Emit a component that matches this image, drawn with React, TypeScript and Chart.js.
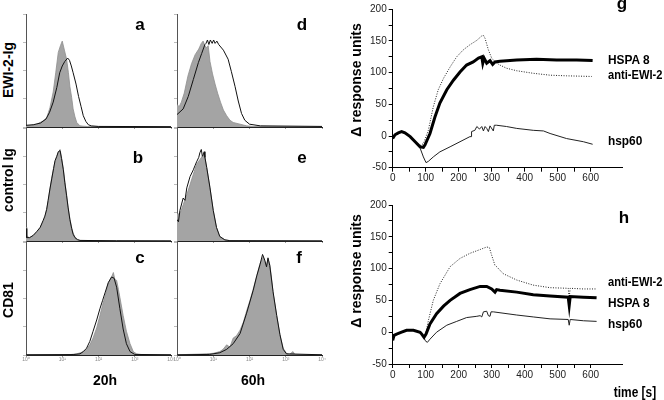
import React, { useEffect, useRef } from "react";
import { Chart, registerables } from "chart.js";
Chart.register(...registerables);

const FONT = "'Liberation Sans', Arial, Helvetica, sans-serif";

// ---------- flow cytometry histograms: x = log10 decade (0..4), y = % of max ----------
const DECADES = [0, 1, 2, 3, 4];
const DECADE_LABELS = ["10\u2070", "10\u00b9", "10\u00b2", "10\u00b3", "10\u2074"];
const HIST_Y_TICKS = [0, 25, 50, 75, 100];

const panelAFilled = [[0,1],[0.15,1.5],[0.3,2.5],[0.45,5],[0.57,8],[0.66,17],[0.75,31],[0.82,48],[0.89,66],[0.95,72],[1.0,76],[1.06,68],[1.12,60],[1.17,48],[1.21,36],[1.26,26],[1.3,16],[1.35,9],[1.4,4],[1.49,1],[1.7,0.4],[2.5,0.2],[4,0.1]];
const panelAOpen = [[0,1.5],[0.2,2],[0.4,3.5],[0.55,7],[0.65,13],[0.75,22],[0.85,35],[0.93,48],[1.0,54],[1.07,58],[1.15,61],[1.2,59],[1.25,54],[1.3,48],[1.38,38],[1.45,27],[1.52,18],[1.58,10],[1.65,5],[1.72,2],[1.8,1],[2.0,0.5],[4,0.3]];

const panelBFilled = [[0,12],[0.02,4],[0.1,3],[0.2,5],[0.3,8],[0.39,12],[0.47,17],[0.52,21],[0.57,28],[0.61,35],[0.66,46],[0.71,56],[0.76,64],[0.8,70],[0.85,75],[0.89,78],[0.94,81],[0.98,74],[1.03,64],[1.07,53],[1.12,41],[1.16,30],[1.21,20],[1.26,12],[1.3,7],[1.35,3.5],[1.42,1.5],[1.49,0.5],[2.5,0.2],[4,0.1]];
const panelBOpen = [[0,11],[0.02,3],[0.1,3],[0.2,5],[0.3,8.5],[0.39,12],[0.47,18],[0.52,22],[0.57,28],[0.61,36],[0.66,46],[0.71,55],[0.76,64],[0.8,71],[0.85,75],[0.89,79],[0.94,80],[0.98,73],[1.03,63],[1.07,52],[1.12,40],[1.16,30],[1.21,19],[1.26,11],[1.3,6],[1.35,3],[1.42,1.2],[1.49,0.5],[2.5,0.2],[4,0.1]];

const panelCFilled = [[0,0.2],[1.2,0.3],[1.4,1],[1.55,2.5],[1.67,5],[1.76,9],[1.85,15],[1.95,24],[2.04,35],[2.11,44],[2.18,52],[2.27,64],[2.36,69],[2.41,73],[2.45,67],[2.5,66],[2.55,58],[2.59,51],[2.68,35],[2.77,21],[2.87,10],[2.96,3],[3.05,1],[3.2,0.3],[4,0.2]];
const panelCOpen = [[0,0.2],[1.3,0.4],[1.49,1],[1.58,3],[1.67,6],[1.76,12],[1.85,21],[1.95,31],[2.04,41],[2.11,48],[2.18,55],[2.27,64],[2.36,69],[2.43,68],[2.5,60],[2.59,41],[2.68,23],[2.77,10],[2.87,3],[3.0,0.5],[4,0.2]];

const panelDFilled = [[0,20],[0.06,18],[0.12,22],[0.2,30],[0.3,45],[0.4,56],[0.5,64],[0.6,69],[0.67,74],[0.72,76],[0.77,72],[0.82,70],[0.86,72],[0.91,58],[0.98,47],[1.05,38],[1.12,30],[1.2,22],[1.28,15],[1.37,10],[1.46,6],[1.55,4],[1.74,2.5],[1.92,1],[2.1,0.5],[4,0.2]];
const panelDOpen = [[0,11],[0.17,16],[0.31,27],[0.45,42],[0.59,57],[0.68,65],[0.77,73],[0.8,74],[0.84,77],[0.88,73],[0.92,77],[0.97,74],[1.01,77],[1.05,74],[1.1,76],[1.15,73],[1.28,68],[1.41,60],[1.5,49],[1.6,36],[1.69,23],[1.78,12],[1.87,6],[2.0,2.5],[2.3,1],[4,0.5]];

const panelEFilled = [[0,24],[0.08,24],[0.17,32],[0.27,41],[0.36,50],[0.45,59],[0.54,68],[0.63,72],[0.72,76],[0.77,74],[0.82,65],[0.91,47],[1.0,27],[1.09,12],[1.18,4],[1.32,1],[1.46,0.3],[4,0.1]];
const panelEOpen = [[0,19],[0.04,17],[0.08,27],[0.17,38],[0.22,36],[0.27,47],[0.36,57],[0.45,63],[0.5,67],[0.54,70],[0.6,74],[0.63,78],[0.67,81],[0.7,75],[0.72,76],[0.75,79],[0.77,74],[0.82,65],[0.91,47],[1.0,27],[1.09,12],[1.18,4],[1.32,1],[1.46,0.3],[4,0.1]];

const panelFFilled = [[0,0.2],[0.82,1],[1.0,1.5],[1.18,3],[1.27,5],[1.37,9],[1.46,7],[1.55,15],[1.64,17],[1.74,22],[1.83,29],[1.92,39],[2.01,48],[2.1,58],[2.2,70],[2.29,81],[2.38,87],[2.42,83],[2.47,79],[2.51,85],[2.56,80],[2.6,70],[2.65,55],[2.75,35],[2.84,18],[2.93,6],[3.02,1.5],[3.1,0.5],[3.2,3],[3.25,0.5],[4,0.2]];
const panelFOpen = [[0,0.2],[0.9,0.5],[1.18,2],[1.37,5],[1.55,10],[1.74,19],[1.92,37],[2.1,57],[2.2,70],[2.29,80],[2.36,89],[2.42,84],[2.47,78],[2.51,86],[2.56,79],[2.65,56],[2.75,35],[2.84,18],[2.93,5],[3.02,1],[4,0.2]];

// ---------- sensorgrams: x = time [s], y = response units ----------
const gHSPA8 = [[0,-4],[7,2],[17,5],[27,7],[37,5],[53,-1],[68,-9],[83,-17],[93,-18],[98,-14],[113,4],[128,30],[143,52],[164,73],[184,88],[204,101],[224,112],[244,117],[260,123],[270,125],[273,115],[277,123],[285,115],[295,119],[303,113],[310,117],[325,118],[376,120],[436,121],[497,120],[558,120],[606,119]];
const gAntiEWI2 = [[0,-4],[7,2],[17,5],[27,7],[37,5],[53,-1],[68,-9],[83,-15],[93,-12],[108,9],[123,46],[138,73],[154,91],[174,109],[194,125],[214,136],[234,144],[255,151],[270,158],[275,159],[280,154],[290,136],[300,123],[310,117],[325,112],[345,107],[376,103],[426,99],[477,96],[527,95],[603,94]];
const gHsp60 = [[0,-4],[7,2],[17,5],[27,7],[37,5],[53,-1],[68,-9],[83,-19],[93,-33],[101,-42],[108,-40],[123,-33],[143,-25],[174,-17],[204,-9],[234,-1],[238,-1],[239,7],[249,9],[255,15],[263,11],[270,15],[275,8],[280,15],[285,12],[290,7],[295,16],[305,8],[308,17],[315,17],[345,15],[376,12],[426,9],[457,8],[477,4],[527,-4],[578,-9],[606,-13]];

const hHSPA8 = [[0,-13],[4,-5],[12,-3],[27,0],[42,3],[63,3],[83,0],[88,-3],[95,-8],[101,-3],[113,13],[133,29],[154,41],[174,50],[204,61],[234,67],[265,72],[285,72],[300,68],[310,63],[315,67],[325,66],[376,63],[426,59],[477,57],[532,55],[535,42],[538,56],[578,55],[618,54]];
const hAntiEWI2 = [[0,-13],[4,-5],[12,-3],[27,0],[42,3],[63,3],[83,0],[88,-3],[98,-8],[108,18],[123,50],[143,76],[174,103],[204,116],[234,124],[265,130],[285,134],[293,133],[300,121],[310,105],[315,103],[335,92],[376,82],[426,74],[477,70],[532,69],[535,55],[538,69],[578,68],[618,68]];
const hHsp60 = [[0,-13],[4,-5],[12,-3],[27,0],[42,3],[63,3],[83,0],[88,-3],[95,-8],[98,-13],[105,-16],[113,-11],[133,0],[164,11],[194,17],[224,23],[255,25],[265,26],[270,24],[275,32],[285,33],[290,26],[295,25],[298,32],[305,32],[376,27],[426,24],[477,21],[532,20],[535,11],[538,20],[578,18],[618,17]];

const toXY = (arr: number[][]) => arr.map(([x, y]) => ({ x, y }));

function Histo(props: { left: number; top: number; filled: number[][]; open: number[][]; labels: boolean }) {
  const ref = useRef<HTMLCanvasElement>(null);
  const W = 157;
  const H = props.labels ? 127 : 117;
  useEffect(() => {
    const chart = new Chart(ref.current as HTMLCanvasElement, {
      type: "line",
      data: {
        datasets: [
          { data: toXY(props.open), borderColor: "#111", borderWidth: 1, fill: false, pointRadius: 0, tension: 0, order: 0 },
          { data: toXY(props.filled), borderColor: "#8e8e8e", borderWidth: 0.8, backgroundColor: "#a4a4a4", fill: "origin", pointRadius: 0, tension: 0, order: 1 },
        ],
      } as any,
      options: {
        responsive: false,
        animation: false,
        events: [],
        plugins: { legend: { display: false }, tooltip: { enabled: false } },
        layout: { padding: { left: 0, right: 6, top: 2, bottom: 0 } },
        scales: {
          x: {
            type: "linear", min: 0, max: 4,
            afterBuildTicks: (s: any) => { s.ticks = DECADES.map((v) => ({ value: v })); },
            afterFit: (s: any) => { s.height = props.labels ? 12 : 2; },
            ticks: { display: props.labels, autoSkip: false, maxRotation: 0, padding: 0, color: "#888", font: { family: FONT, size: 5 }, callback: (v: any) => DECADE_LABELS[Math.round(Number(v))] ?? "" },
            grid: { drawOnChartArea: false, tickLength: 2, tickColor: "#999" },
            border: { color: "#222", width: 1 },
          },
          y: {
            min: 0, max: 100,
            afterBuildTicks: (s: any) => { s.ticks = HIST_Y_TICKS.map((v) => ({ value: v })); },
            afterFit: (s: any) => { s.width = 6; },
            ticks: { display: false },
            grid: { drawOnChartArea: false, tickLength: 3, tickColor: "#bbb" },
            border: { color: "#555", width: 1 },
          },
        },
      } as any,
    });
    return () => chart.destroy();
  }, []);
  return <canvas ref={ref} width={W} height={H} style={{ position: "absolute", left: props.left, top: props.top }} />;
}

function Sensor(props: { top: number; padTop: number; xH: number; hspa: number[][]; anti: number[][]; hsp: number[][] }) {
  const ref = useRef<HTMLCanvasElement>(null);
  useEffect(() => {
    const chart = new Chart(ref.current as HTMLCanvasElement, {
      type: "line",
      data: {
        datasets: [
          { data: toXY(props.hspa), borderColor: "#000", borderWidth: 3, fill: false, pointRadius: 0, tension: 0 },
          { data: toXY(props.anti), borderColor: "#222", borderWidth: 1, borderDash: [1, 1.5], fill: false, pointRadius: 0, tension: 0 },
          { data: toXY(props.hsp), borderColor: "#222", borderWidth: 1, fill: false, pointRadius: 0, tension: 0 },
        ],
      } as any,
      options: {
        responsive: false,
        animation: false,
        events: [],
        plugins: { legend: { display: false }, tooltip: { enabled: false } },
        layout: { padding: { left: 0, right: 42, top: props.padTop, bottom: 0 } },
        scales: {
          x: {
            type: "linear", min: 0, max: 695,
            afterBuildTicks: (s: any) => { s.ticks = s.ticks.filter((t: any) => t.value % 50 === 0); },
            afterFit: (s: any) => { s.height = props.xH; },
            ticks: { stepSize: 50, autoSkip: false, maxRotation: 0, padding: 1, color: "#222", font: { family: FONT, size: 10 }, callback: (v: any) => (Number(v) % 100 === 0 ? String(v) : "") },
            grid: { drawOnChartArea: false, tickLength: 4, tickColor: "#000" },
            border: { color: "#000", width: 1 },
          },
          y: {
            min: -50, max: 200,
            afterFit: (s: any) => { s.width = 42.7; },
            ticks: { stepSize: 25, autoSkip: false, padding: 2, color: "#222", font: { family: FONT, size: 10 }, callback: (v: any) => (Number(v) % 50 === 0 ? String(v) : "") },
            grid: { drawOnChartArea: false, tickLength: 4, tickColor: "#000" },
            border: { color: "#000", width: 1 },
          },
        },
      } as any,
    });
    return () => chart.destroy();
  }, []);
  return <canvas ref={ref} width={314} height={190} style={{ position: "absolute", left: 350, top: props.top }} />;
}

function Txt(props: { text: string; x: number; base: number; size: number; align?: "left" | "center"; sx?: number }) {
  const left = props.align === "left";
  return (
    <div style={{
      position: "absolute", left: props.x, top: props.base - 0.8465 * props.size,
      font: `bold ${props.size}px ${FONT}`, lineHeight: 1, whiteSpace: "nowrap", color: "#000",
      transform: `${left ? "" : "translateX(-50%) "}scaleX(${props.sx ?? 1})`, transformOrigin: left ? "left top" : "center top",
    }}>{props.text}</div>
  );
}

function VTxt(props: { text: string; cx: number; cy: number; size: number }) {
  return (
    <div style={{
      position: "absolute", left: props.cx, top: props.cy,
      font: `bold ${props.size}px ${FONT}`, lineHeight: 1, whiteSpace: "nowrap", color: "#000",
      transform: "translate(-50%, -50%) rotate(-90deg)",
    }}>{props.text}</div>
  );
}

export default function App() {
  return (
    <div style={{ position: "fixed", left: 0, top: 0, width: 664, height: 400, background: "#fff", overflow: "hidden" }}>
      <Histo left={20} top={12} filled={panelAFilled} open={panelAOpen} labels={false} />
      <Histo left={20} top={126} filled={panelBFilled} open={panelBOpen} labels={false} />
      <Histo left={20} top={240} filled={panelCFilled} open={panelCOpen} labels={true} />
      <Histo left={171} top={12} filled={panelDFilled} open={panelDOpen} labels={false} />
      <Histo left={171} top={126} filled={panelEFilled} open={panelEOpen} labels={false} />
      <Histo left={171} top={240} filled={panelFFilled} open={panelFOpen} labels={true} />

      <Sensor top={0} padTop={9.3} xH={22.3} hspa={gHSPA8} anti={gAntiEWI2} hsp={gHsp60} />
      <Sensor top={195} padTop={10} xH={21} hspa={hHSPA8} anti={hAntiEWI2} hsp={hHsp60} />

      <Txt text="a" x={140} base={30.5} size={17} />
      <Txt text="b" x={138} base={163} size={17} />
      <Txt text="c" x={140} base={263} size={17} />
      <Txt text="d" x={302} base={30.5} size={17} />
      <Txt text="e" x={302} base={163} size={17} />
      <Txt text="f" x={299} base={263} size={17} />
      <Txt text="g" x={622} base={9} size={17} />
      <Txt text="h" x={624} base={223} size={17} />

      <VTxt text="EWI-2-Ig" cx={7.5} cy={70} size={14} />
      <VTxt text="control Ig" cx={7.7} cy={180} size={14} />
      <VTxt text="CD81" cx={8} cy={300} size={14} />
      <Txt text="20h" x={105} base={385} size={14} />
      <Txt text="60h" x={253} base={385} size={14} />

      <VTxt text={"\u0394 response units"} cx={356} cy={80} size={14} />
      <VTxt text={"\u0394 response units"} cx={356} cy={271} size={14} />

      <Txt text="HSPA 8" x={608} base={65} size={12.5} align="left" sx={0.95} />
      <Txt text="anti-EWI-2" x={608} base={80} size={12.5} align="left" sx={0.89} />
      <Txt text="hsp60" x={608} base={146} size={12.5} align="left" sx={0.95} />
      <Txt text="anti-EWI-2" x={608} base={287} size={12.5} align="left" sx={0.89} />
      <Txt text="HSPA 8" x={608} base={308} size={12.5} align="left" sx={0.95} />
      <Txt text="hsp60" x={608} base={329} size={12.5} align="left" sx={0.95} />
      <Txt text="time [s]" x={635} base={397} size={14} sx={0.85} />
    </div>
  );
}
